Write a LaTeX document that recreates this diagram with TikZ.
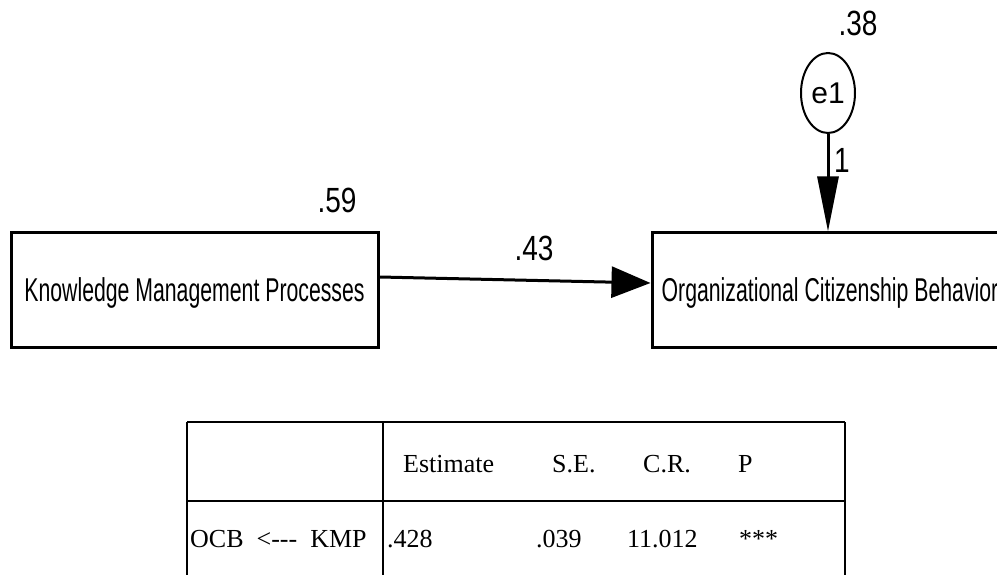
\documentclass[tikz,border=0pt]{standalone}
\usepackage{fontspec}
\usepackage{tikz}
\usetikzlibrary{arrows.meta}
\usetikzlibrary{shapes.geometric}
\newfontfamily\amosfont[FakeStretch=0.644]{Liberation Sans}
\newfontfamily\amosnumfont[FakeStretch=0.8]{Liberation Sans}
\newfontfamily\amoserrfont{Liberation Sans}
\newfontfamily\tablefont{Liberation Serif}
\newcommand{\tabentry}[4]{\node[tabtext] (#1) at ( #2 , #3 ) {#4};}

\begin{document}
\begin{tikzpicture}[x=1pt, y=-1pt,
    obsbox/.style={draw, line width=3pt, minimum width=367pt, minimum height=114pt,
        inner sep=0pt, text depth=0pt, font=\amosfont\fontsize{33}{36}\selectfont},
    errnode/.style={draw, ellipse, line width=2pt, minimum width=54pt, minimum height=80pt,
        inner sep=0pt, font=\amoserrfont\fontsize{30}{32}\selectfont},
    numlabel/.style={inner sep=0pt, font=\amosnumfont\fontsize{35}{38}\selectfont},
    path/.style={line width=3pt},
    tabline/.style={line width=2.5pt},
    tabtext/.style={anchor=base west, inner sep=0pt, font=\tablefont\fontsize{26}{30}\selectfont}]
    \useasboundingbox (0,0) rectangle (997,575);
    % path diagram
    \node[obsbox] (kmp) at (194.5,290) {Knowledge Management Processes};
    \node[obsbox, minimum width=356pt] (ocb) at (830,290) {Organizational Citizenship Behavior};
    \node[errnode] (e1) at (828,93) {e1};
    \node[numlabel] (kmpvar) at (337,200) {.59};
    \node[numlabel] (ocbsmc) at (858,23) {.38};
    \draw[path, -{Triangle[length=39pt, width=31pt]}] ([yshift=13pt]kmp.east) -- ([yshift=7pt]ocb.west)
        node[numlabel, pos=0.57, above=18pt] (kmpocb) {.43};
    \draw[path, -{Triangle[length=55pt, width=21pt]}] (e1.south) -- (e1.south |- ocb.north);
    \node[numlabel] (e1wt) at (842,160) {1};
    % table frame
    \draw[tabline] (187,422) -- (845,422);
    \draw[tabline] (187,501) -- (845,501);
    \draw[tabline] (187,422) -- (187,577);
    \draw[tabline] (383,422) -- (383,577);
    \draw[tabline] (845,422) -- (845,577);
    % header row
    \tabentry{hest}{403}{472}{Estimate}
    \tabentry{hse}{552}{472}{S.E.}
    \tabentry{hcr}{643}{472}{C.R.}
    \tabentry{hp}{738}{472}{P}
    % row 1
    \tabentry{rpath}{190}{547}{OCB\ \ <-{}-{}-\ \ KMP}
    \tabentry{rest}{387}{547}{.428}
    \tabentry{rse}{536}{547}{.039}
    \tabentry{rcr}{627}{547}{11.012}
    \tabentry{rp}{739}{547}{***}
\end{tikzpicture}
\end{document}
